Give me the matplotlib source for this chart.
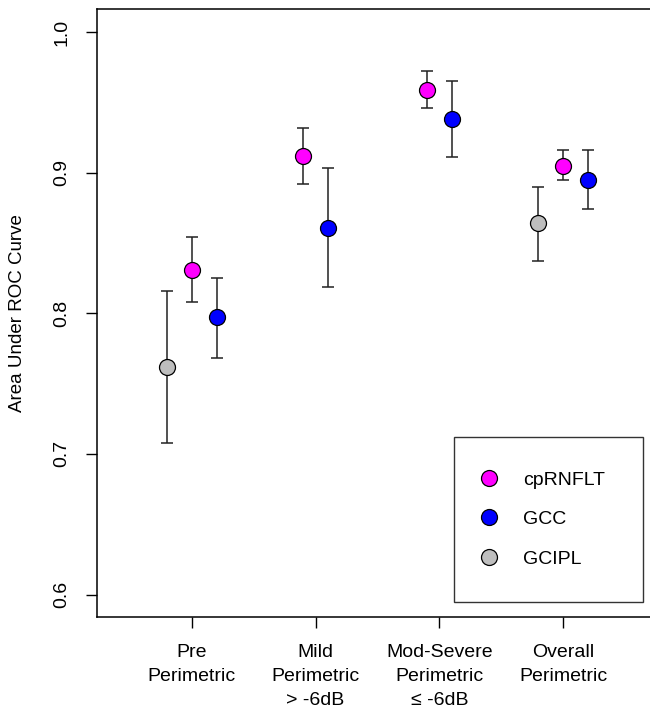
import numpy as np
import matplotlib
matplotlib.use("Agg")
import matplotlib.pyplot as plt
from matplotlib.lines import Line2D

plt.rcParams['font.family'] = ['Liberation Sans', 'DejaVu Sans']

categories = ["Pre\nPerimetric", "Mild\nPerimetric\n> -6dB",
              "Mod-Severe\nPerimetric\n\u2264 -6dB", "Overall\nPerimetric"]
series = ["cpRNFLT", "GCC", "GCIPL"]
colors = {"cpRNFLT": "#FF00FF", "GCC": "#0000FF", "GCIPL": "#BEBEBE"}

auc = {
    "cpRNFLT": [0.831, 0.912, 0.959, 0.905],
    "GCC":     [0.797, 0.861, 0.938, 0.895],
    "GCIPL":   [0.762, None, None, 0.864],
}
lower = {
    "cpRNFLT": [0.808, 0.892, 0.946, 0.895],
    "GCC":     [0.768, 0.819, 0.911, 0.874],
    "GCIPL":   [0.708, None, None, 0.837],
}
upper = {
    "cpRNFLT": [0.854, 0.932, 0.972, 0.916],
    "GCC":     [0.825, 0.903, 0.965, 0.916],
    "GCIPL":   [0.816, None, None, 0.890],
}
yticks = [0.6, 0.7, 0.8, 0.9, 1.0]

W, H = 650, 709
fig = plt.figure(figsize=(W / 100, H / 100), dpi=100)
left, right, top, bottom = 97, 658, 9, 617
ax = fig.add_axes([left / W, 1 - bottom / H, (right - left) / W, (bottom - top) / H])

draw_order = ["GCIPL", "cpRNFLT", "GCC"]
for i in range(len(categories)):
    present = [s for s in draw_order if auc[s][i] is not None]
    n = len(present)
    offs = (np.arange(n) - (n - 1) / 2) * 0.2
    for s, o in zip(present, offs):
        x = i + 1 + o
        v = auc[s][i]
        ax.errorbar([x], [v], yerr=[[v - lower[s][i]], [upper[s][i] - v]],
                    fmt='none', ecolor='#222222', elinewidth=1.1, capsize=4.5,
                    capthick=1.1, zorder=2)
        ax.plot([x], [v], 'o', ms=11.5, mfc=colors[s], mec='black', mew=0.9, zorder=3)

ax.set_xlim(0.234, 4.766)
ax.set_ylim(0.584, 1.0164)
ax.set_xticks(np.arange(1, len(categories) + 1))
ax.set_xticklabels(categories, fontsize=14, linespacing=1.55)
ax.set_yticks(yticks)
ax.set_yticklabels([f"{t:.1f}" for t in yticks], fontsize=14, rotation=90, va='center')
ax.tick_params(axis='x', length=8, width=1.0, pad=11.5)
ax.tick_params(axis='y', length=8, width=1.0, pad=11)
for sp in ax.spines.values():
    sp.set_linewidth(1.1)

fig.text(18 / W, 1 - 313 / H, "Area Under ROC Curve", rotation=90,
         ha='center', va='center', fontsize=13.5)

handles = [Line2D([], [], ls='none', marker='o', ms=11.5, mfc=colors[s], mec='black', mew=0.9)
           for s in series]
leg = ax.legend(handles, series, loc='upper left',
                bbox_to_anchor=(454 / W, 1 - 600 / H, 189 / W, 163 / H),
                bbox_transform=fig.transFigure, mode='expand', borderaxespad=0,
                fontsize=14, frameon=True, fancybox=False, edgecolor='black',
                borderpad=1.76, labelspacing=1.12, handlelength=0.05, handletextpad=1.75)
leg.get_frame().set_linewidth(1.0)

fig.savefig("out.png", dpi=100)
